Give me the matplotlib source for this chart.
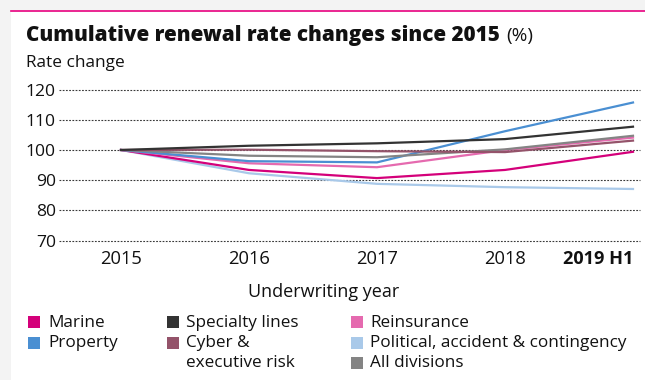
import matplotlib
matplotlib.use("Agg")
import matplotlib.pyplot as plt
from matplotlib.patches import Rectangle

plt.rcParams['font.family'] = ['Open Sans', 'DejaVu Sans']

years = ["2015", "2016", "2017", "2018", "2019 H1"]
series_names = ["Marine", "Property", "Specialty lines", "Cyber &\nexecutive risk",
                "Reinsurance", "Political, accident & contingency", "All divisions"]
colors = ["#d4007a", "#4a8fd2", "#333333", "#94536a", "#e56aaf", "#a9c9e9", "#848484"]

marine = [100, 93.4, 90.7, 93.4, 99.4]
prop = [100, 96.3, 95.9, 106.2, 115.7]
specialty = [100, 101.4, 102.2, 103.6, 107.7]
cyber = [100, 100.1, 99.6, 99.3, 103.1]
reins = [100, 95.6, 94.3, 100.0, 104.1]
pac = [100, 92.3, 88.8, 87.7, 87.1]
alldiv = [100, 98.1, 97.6, 100.2, 104.7]
values = [marine, prop, specialty, cyber, reins, pac, alldiv]

yticks = [70, 80, 90, 100, 110, 120]

W, H = 645, 380
fig = plt.figure(figsize=(W / 100, H / 100), dpi=100)
fig.patch.set_facecolor("white")
renderer = fig.canvas.get_renderer()


def px(x, y):
    return x / W, 1 - y / H


def fitted_size(s, target, size=12, **kw):
    t = fig.text(0, 0, s, fontsize=size, **kw)
    w = t.get_window_extent(renderer).width
    t.remove()
    return size * target / w


def fit_text(x, y, s, target, **kw):
    size = fitted_size(s, target, **kw)
    return fig.text(*px(x, y), s, fontsize=size, **kw)


# page background strips
fig.add_artist(Rectangle((0, 1 - 10 / H), 1, 10 / H, transform=fig.transFigure,
                         facecolor="#f3f3f3", edgecolor="none"))
fig.add_artist(Rectangle((0, 0), 11 / W, 1, transform=fig.transFigure,
                         facecolor="#f3f3f3", edgecolor="none"))
fig.add_artist(plt.Line2D([11 / W, 1], [1 - 10.5 / H, 1 - 10.5 / H], transform=fig.transFigure,
                          color="#e6007e", lw=1.2))

# axes: left 59px, right 640px, top 89.5px, bottom 240.7px
ax = fig.add_axes([59 / W, 1 - 240.7 / H, (640 - 59) / W, (240.7 - 89.5) / H])
ax.set_xlim((59 - 121) / 128, (640 - 121) / 128)
ax.set_ylim(70, 120)
for s in ax.spines.values():
    s.set_visible(False)

ysize = fitted_size("100", 30)
ax.set_yticks(yticks)
ax.set_yticklabels([str(t) for t in yticks], fontsize=ysize, color="#111111")
ax.tick_params(axis="y", length=0, pad=2.2)

xsize = fitted_size("2016", 42)
bsize = fitted_size("2019 H1", 70, fontweight="bold")
ax.set_xticks(range(len(years)))
ax.set_xticklabels(years, fontsize=xsize, color="#111111")
last = ax.get_xticklabels()[-1]
last.set_fontweight("bold")
last.set_fontsize(bsize)
last.set_horizontalalignment("right")
ax.tick_params(axis="x", length=0, pad=7)

for t in yticks:
    ax.axhline(t, color="#3a3a3a", lw=0.8, ls=(0, (1.6, 1.3)), zorder=0, clip_on=False)

order = [5, 0, 4, 1, 6, 3, 2]
for i in order:
    ax.plot(range(len(years)), values[i], color=colors[i], lw=1.6, zorder=2,
            solid_joinstyle="round")

# x label
fit_text(323.5, 296.7, "Underwriting year", 151, color="#111111", ha="center", va="baseline")

# title
fit_text(26, 41, "Cumulative renewal rate changes since 2015", 472, fontweight="heavy",
         color="#111111", ha="left", va="baseline")
fit_text(506, 41, "(%)", 27, color="#111111", ha="left", va="baseline")
fit_text(26, 67, "Rate change", 98, color="#111111", ha="left", va="baseline")

# legend
lsize = fitted_size("Political, accident & contingency", 253)
cols = [(28, 48), (167, 186), (351, 370)]
rows_base = [326.7, 347.0, 367.0]
pos = [(0, 0), (0, 1), (1, 0), (1, 1), (2, 0), (2, 1), (2, 2)]
for (c, r), name, col in zip(pos, series_names, colors):
    sx, tx = cols[c]
    yb = rows_base[r]
    fig.add_artist(Rectangle(px(sx, yb + 1.5), 12 / W, 12 / H,
                             transform=fig.transFigure, facecolor=col, edgecolor="none"))
    fig.text(*px(tx, yb), name.split("\n")[0], fontsize=lsize, color="#111111",
             va="baseline", ha="left")
    if "\n" in name:
        fig.text(*px(tx, rows_base[r + 1]), name.split("\n")[1], fontsize=lsize,
                 color="#111111", va="baseline", ha="left")

fig.savefig("out.png", dpi=100, facecolor=fig.get_facecolor())
